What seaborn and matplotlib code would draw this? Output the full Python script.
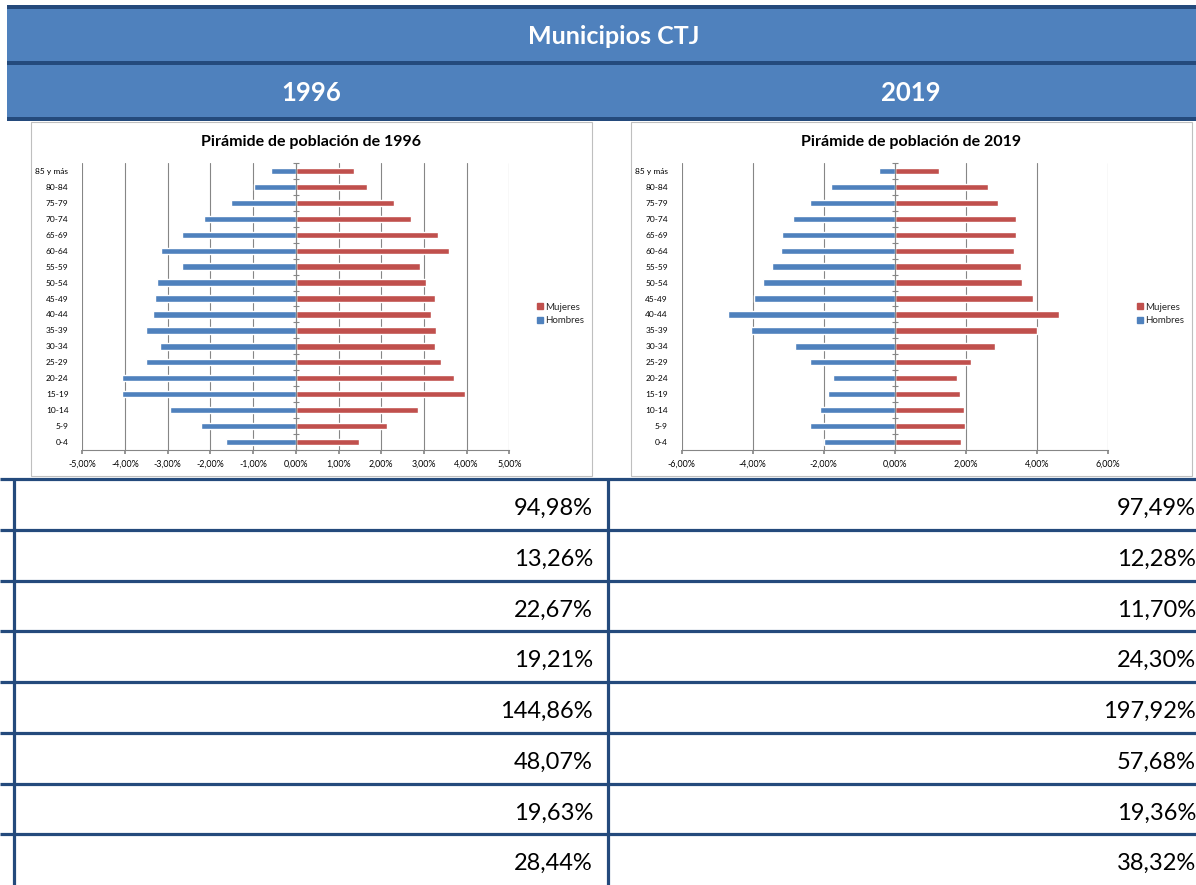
import numpy as np
import pandas as pd
import matplotlib.pyplot as plt
import seaborn as sns
from matplotlib.patches import Rectangle
from matplotlib.lines import Line2D
from matplotlib.ticker import FuncFormatter, MultipleLocator

grupos = ['85 y más', '80-84', '75-79', '70-74', '65-69', '60-64', '55-59', '50-54',
          '45-49', '40-44', '35-39', '30-34', '25-29', '20-24', '15-19', '10-14',
          '5-9', '0-4']
hombres_1996 = [-0.59, -0.99, -1.51, -2.15, -2.66, -3.15, -2.66, -3.24, -3.30,
                -3.34, -3.50, -3.19, -3.50, -4.06, -4.07, -2.94, -2.22, -1.63]
mujeres_1996 = [1.36, 1.66, 2.31, 2.69, 3.32, 3.59, 2.90, 3.05, 3.27,
                3.17, 3.29, 3.27, 3.40, 3.70, 3.96, 2.86, 2.13, 1.48]
hombres_2019 = [-0.45, -1.81, -2.40, -2.87, -3.18, -3.20, -3.46, -3.71, -3.97,
                -4.69, -4.06, -2.81, -2.38, -1.74, -1.88, -2.12, -2.39, -2.00]
mujeres_2019 = [1.24, 2.61, 2.91, 3.41, 3.41, 3.35, 3.56, 3.59, 3.90,
                4.63, 4.01, 2.83, 2.14, 1.76, 1.82, 1.94, 1.97, 1.85]

# indicadores de la tabla inferior
indicadores_1996 = [94.98, 13.26, 22.67, 19.21, 144.86, 48.07, 19.63, 28.44]
indicadores_2019 = [97.49, 12.28, 11.70, 24.30, 197.92, 57.68, 19.36, 38.32]

anios = ['1996', '2019']

AZUL = '#4F81BD'
ROJO = '#C0504D'
OSCURO = '#244A7C'
GRIS = '#868686'

sns.set_theme(style='white')
plt.rcParams['font.family'] = ['Lato', 'DejaVu Sans']

W, H = 1196, 885
fig = plt.figure(figsize=(W / 100, H / 100), dpi=100)

# capa de fondo en pixeles
bg = fig.add_axes([0, 0, 1, 1])
bg.set_xlim(0, W)
bg.set_ylim(H, 0)
bg.axis('off')

# cabecera
bg.add_patch(Rectangle((7, 9), W, 52, fc=AZUL, ec='none'))
bg.add_patch(Rectangle((7, 65), W, 52, fc=AZUL, ec='none'))
for y0 in (5, 61, 117):
    bg.add_patch(Rectangle((7, y0), W, 4, fc=OSCURO, ec='none'))
bg.text(614, 37, 'Municipios CTJ', ha='center', va='center', color='white',
        fontsize=18, fontweight='bold')
bg.text(311, 93, anios[0], ha='center', va='center', color='white',
        fontsize=18.5, fontweight='bold')
bg.text(911, 93, anios[1], ha='center', va='center', color='white',
        fontsize=18.5, fontweight='bold')

# marcos de los graficos
cajas = [(30.5, 592), (630.5, 1192)]
for x0, x1 in cajas:
    bg.add_patch(Rectangle((x0, 121.5), x1 - x0, 354, fc='white', ec='#BFBFBF', lw=0.8))

# tabla
fila_h = 50.75
y_tab = 479
for i in range(len(indicadores_1996)):
    bg.hlines(y_tab + i * fila_h, 0, W, color=OSCURO, lw=2.3)
    yc = y_tab + (i + 0.5) * fila_h + 4
    bg.text(593, yc, f'{indicadores_1996[i]:.2f}%'.replace('.', ','),
            ha='right', va='center', fontsize=17, color='black')
    bg.text(1196, yc, f'{indicadores_2019[i]:.2f}%'.replace('.', ','),
            ha='right', va='center', fontsize=17, color='black')
bg.vlines([14, 608], y_tab, H, color=OSCURO, lw=2.3)

fmt = FuncFormatter(lambda v, p: f'{v:.2f}%'.replace('.', ','))


def piramide(rect, hombres, mujeres, lim, paso, titulo, caja):
    ax = fig.add_axes(rect)
    df = pd.DataFrame({
        'grupo': grupos * 2,
        'valor': list(mujeres) + list(hombres),
        'sexo': ['Mujeres'] * len(grupos) + ['Hombres'] * len(grupos),
    })
    sns.barplot(data=df, y='grupo', x='valor', hue='sexo', order=grupos,
                palette={'Mujeres': ROJO, 'Hombres': AZUL}, dodge=False,
                width=0.4, saturation=1, legend=False, ax=ax)
    ax.set_xlim(-lim, lim)
    ax.set_ylim(len(grupos) - 0.5, -0.5)
    ax.xaxis.set_major_locator(MultipleLocator(paso))
    ax.xaxis.set_major_formatter(fmt)
    ax.grid(axis='x', color=GRIS, lw=0.8)
    ax.grid(axis='y', visible=False)
    ax.set_axisbelow(True)
    ax.set_xlabel('')
    ax.set_ylabel('')
    for s in ('top', 'right', 'left'):
        ax.spines[s].set_visible(False)
    ax.spines['bottom'].set_color(GRIS)
    ax.spines['bottom'].set_linewidth(0.8)
    ax.tick_params(axis='y', length=0, labelsize=6, pad=10, colors='black')
    ax.tick_params(axis='x', length=3, color=GRIS, bottom=True, direction='out',
                   labelsize=6.4, pad=4, colors='black')
    # eje vertical en el cero con marcas entre categorias
    ax.axvline(0, color=GRIS, lw=0.8, zorder=1)
    limites = np.arange(len(grupos) + 1) - 0.5
    ax.plot(np.zeros_like(limites), limites, ls='none', marker='_', ms=4,
            mew=0.8, color=GRIS, clip_on=False, zorder=1)
    x0, x1 = caja
    bg.text((x0 + x1) / 2, 142, titulo, ha='center', va='center',
            fontsize=11.5, fontweight='bold', color='black')
    handles = [Line2D([], [], ls='none', marker='s', ms=5, color=ROJO),
               Line2D([], [], ls='none', marker='s', ms=5, color=AZUL)]
    fig.legend(handles, ['Mujeres', 'Hombres'], loc='center left',
               bbox_to_anchor=((x1 - 60) / W, 1 - 314 / H), frameon=False,
               fontsize=7, handletextpad=0.2, labelspacing=0.5,
               handlelength=0.8, borderaxespad=0)
    return ax


def rect_px(x0, x1, y0, y1):
    return [x0 / W, 1 - y1 / H, (x1 - x0) / W, (y1 - y0) / H]


piramide(rect_px(82.3, 509.3, 163, 450), hombres_1996, mujeres_1996, 5, 1,
         'Pirámide de población de 1996', cajas[0])
piramide(rect_px(681.7, 1108, 163, 450), hombres_2019, mujeres_2019, 6, 2,
         'Pirámide de población de 2019', cajas[1])

fig.savefig('out.png', dpi=100)
